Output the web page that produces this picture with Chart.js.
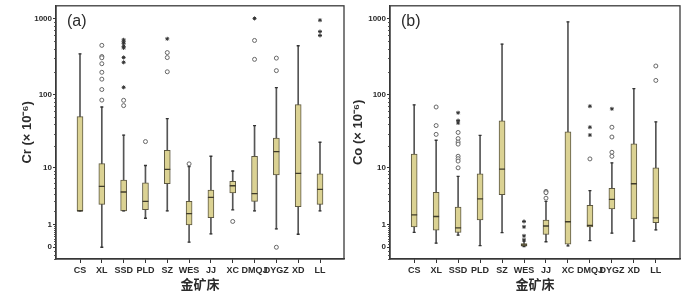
<!DOCTYPE html>
<html>
<head>
<meta charset="utf-8">
<script src="https://cdn.jsdelivr.net/npm/chart.js@4"></script>
<style>
  body { margin: 0; background: #fff; }
  canvas { position: absolute; top: 0; }
</style>
</head>
<body>
<canvas id="crChart" width="350" height="291" style="left:0"></canvas>
<canvas id="coChart" width="350" height="291" style="left:350px"></canvas>
<script>
const deposits = ['CS', 'XL', 'SSD', 'PLD', 'SZ', 'WES', 'JJ', 'XC', 'DMQJ', 'DYGZ', 'XD', 'LL'];

// tick values (ppm) and their labels; axis is log10(v + 1)
const yTicks = [0, 1, 10, 100, 1000];
const yTickLabels = ['0', '1', '10', '100', '1000'];
const yMinorTicks = [-0.3, -0.2, -0.1, 0.1, 0.2, 0.3, 0.4, 0.5, 0.6, 0.7, 0.8, 0.9,
  2, 3, 4, 5, 6, 7, 8, 9, 20, 30, 40, 50, 60, 70, 80, 90, 200, 300, 400, 500, 600, 700, 800, 900];

// (a) Cr
const crLow  = [2.0, 0, 2.0, 1.4, 2.0, 0.17, 0.5, 2.1, 2.0, 0.74, 0.48, 2.0];
const crQ1   = [2.0, 2.65, 2.0, 2.1, 5.8, 0.96, 1.45, 4.15, 3.0, 7.9, 2.4, 2.65];
const crMed  = [2.0, 5.3, 4.3, 3.0, 9.5, 1.76, 3.5, 5.4, 4.06, 16.9, 8.3, 4.75];
const crQ3   = [50.5, 11.5, 6.6, 6.0, 17.6, 3.0, 4.6, 6.3, 14.6, 26, 73, 8.15];
const crHigh = [342, 68, 28.6, 10.8, 47.5, 10.4, 14.6, 9, 38.4, 123, 438, 22.8];
const crCircles = [[], [443, 316, 304, 254, 196, 159, 116, 84], [83.5, 71], [23.3], [356, 306, 199],
  [11.4], [], [1.18], [514, 290], [301, 206, 0], [], []];
const crStars = [[], [], [524, 494, 471, 430, 410, 307, 265, 124], [], [540],
  [], [], [], [1000], [], [], [948, 672, 597]];

// (b) Co
const coLow  = [0.57, 0.13, 0.44, 0.05, 0.56, 0.02, 0.18, 0.04, 0.22, 0.53, 0.2, 0.69];
const coQ1   = [0.85, 0.67, 0.56, 1.29, 3.91, 0.03, 0.47, 0.10, 0.85, 2.18, 1.36, 1.10];
const coMed  = [1.66, 1.53, 0.79, 3.31, 9.6, 0.07, 0.90, 1.16, 0.94, 3.24, 5.8, 1.43];
const coQ3   = [15.6, 4.26, 2.37, 8.15, 44.3, 0.12, 1.27, 31.7, 2.54, 4.92, 21.7, 10];
const coHigh = [72.5, 24.3, 7.5, 28.3, 460, 0.2, 3.0, 903, 4.53, 11.8, 119.5, 43];
const coCircles = [[], [68, 38.4, 29.2], [31, 25.6, 23, 21.5, 14.6, 13.5, 12.5, 10], [], [],
  [], [4.4, 4.2, 3.4], [], [13.4], [36.5, 26.9, 16.6, 14.6], [], [237, 153]];
const coStars = [[], [], [57, 44.8, 41.6], [], [],
  [1.18, 0.85, 0.41, 0.25], [], [], [69.7, 36.5, 28.6], [64.3], [], []];

const tf = v => Math.log10(v + 1);
const boxFill = '#dbd293';
const boxLine = '#5c5740';
const ink = '#2b2b2b';

function pointsOf(lists) {
  return lists.flatMap((arr, i) => arr.map(v => ({ x: i, y: tf(v) })));
}

function boxDatasets(low, q1, med, q3, high, circles, stars) {
  return [
    { type: 'scatter', data: pointsOf(stars), pointStyle: 'star', radius: 2,
      borderColor: '#333', borderWidth: 1, order: 0 },
    { type: 'scatter', data: pointsOf(circles), pointStyle: 'circle', radius: 2,
      borderColor: '#666', backgroundColor: '#fff', borderWidth: 1, order: 1 },
    { type: 'scatter', data: med.map((v, i) => ({ x: i, y: tf(v) })), pointStyle: 'line', radius: 3,
      borderColor: '#3f3b2a', borderWidth: 1.3, order: 2 },
    { type: 'scatter', data: high.map((v, i) => ({ x: i, y: tf(v) })).concat(low.map((v, i) => ({ x: i, y: tf(v) }))),
      pointStyle: 'line', radius: 1.5, borderColor: '#333', borderWidth: 1.3, order: 3 },
    { type: 'bar', data: q1.map((v, i) => ({ x: i, y: [tf(v), tf(q3[i])] })), barThickness: 6,
      backgroundColor: boxFill, borderColor: boxLine, borderWidth: 1, borderSkipped: false,
      grouped: false, order: 4 },
    { type: 'bar', data: low.map((v, i) => ({ x: i, y: [tf(v), tf(high[i])] })), barThickness: 1,
      backgroundColor: '#555', borderWidth: 0, grouped: false, order: 5 }
  ];
}

const extras = {
  id: 'extras',
  afterDraw(chart) {
    const ctx = chart.ctx;
    const y = chart.scales.y;
    const a = chart.chartArea;
    ctx.save();
    ctx.strokeStyle = '#555';
    ctx.lineWidth = 1;
    yMinorTicks.forEach(v => {
      const py = Math.round(y.getPixelForValue(tf(v))) + 0.5;
      ctx.beginPath();
      ctx.moveTo(a.left - 2, py);
      ctx.lineTo(a.left, py);
      ctx.stroke();
    });
    ctx.strokeStyle = '#3a3a3a';
    ctx.lineWidth = 1.3;
    ctx.strokeRect(a.left, a.top, a.right - a.left, a.bottom - a.top);
    ctx.fillStyle = ink;
    ctx.font = '16px "Liberation Sans"';
    ctx.textBaseline = 'alphabetic';
    ctx.fillText(chart.options.panelLabel, a.left + 11, a.top + 20);
    ctx.restore();
  }
};

function makeBoxChart(canvasId, yTitle, panelLabel, yWidth, titlePad, rightPad, sets) {
  const ctx = document.getElementById(canvasId).getContext('2d');
  return new Chart(ctx, {
    type: 'bar',
    data: { datasets: boxDatasets(...sets) },
    options: {
      responsive: false,
      animation: false,
      events: [],
      panelLabel: panelLabel,
      layout: { padding: { top: 1, right: rightPad, left: 0, bottom: 0 } },
      plugins: { legend: { display: false }, tooltip: { enabled: false } },
      scales: {
        x: {
          type: 'linear', min: -1.1, max: 12.1, offset: false,
          afterBuildTicks: s => { s.ticks = deposits.map((_, i) => ({ value: i })); },
          afterFit: s => { s.height = 32; },
          ticks: {
            callback: (v, i) => deposits[i], autoSkip: false, maxRotation: 0,
            font: { family: 'Liberation Sans', size: 9, weight: 'bold' }, color: ink, padding: 2
          },
          grid: { drawOnChartArea: false, tickLength: 4, color: '#333', offset: false },
          border: { color: '#333', width: 1.3 },
          title: {
            display: true, text: '金矿床', color: ink,
            font: { family: 'Noto Sans CJK SC', size: 13, weight: 'bold', lineHeight: 1 },
            padding: { top: 0, bottom: 0 }
          }
        },
        y: {
          min: -0.154, max: 3.166,
          afterBuildTicks: s => { s.ticks = yTicks.map(v => ({ value: tf(v) })); },
          afterFit: s => { s.width = yWidth; },
          ticks: {
            callback: (v, i) => yTickLabels[i],
            font: { family: 'Liberation Sans', size: 8, weight: 'bold' }, color: ink, padding: 1
          },
          grid: { drawOnChartArea: false, tickLength: 3, color: '#333' },
          border: { color: '#333', width: 1.3 },
          title: {
            display: true, text: yTitle, color: ink,
            font: { family: 'Liberation Sans', size: 13, weight: 'bold', lineHeight: 1 },
            padding: { top: titlePad, bottom: 0 }
          }
        }
      }
    },
    plugins: [extras]
  });
}

makeBoxChart('crChart', 'Cr (× 10⁻⁶)', '(a)', 56, 21, 6,
  [crLow, crQ1, crMed, crQ3, crHigh, crCircles, crStars]);
makeBoxChart('coChart', 'Co (× 10⁻⁶)', '(b)', 40, 2, 20,
  [coLow, coQ1, coMed, coQ3, coHigh, coCircles, coStars]);
</script>
</body>
</html>
